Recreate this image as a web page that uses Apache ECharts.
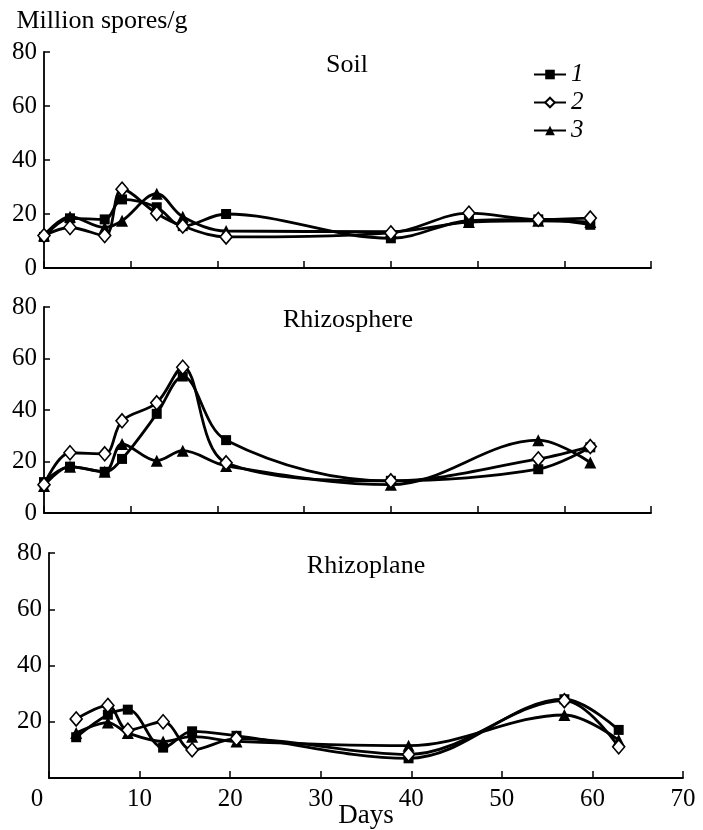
<!DOCTYPE html>
<html>
<head>
<meta charset="utf-8">
<script src="https://cdn.jsdelivr.net/npm/echarts@6/dist/echarts.min.js"></script>
<style>
  html, body { margin: 0; padding: 0; background: #fff; }
  #chart { width: 703px; height: 830px; }
</style>
</head>
<body>
<div id="chart"></div>
<script>
// days of sampling
const daysTop = [0, 3, 7, 9, 13, 16, 21, 40, 49, 57, 63];
const daysMid = [0, 3, 7, 9, 13, 16, 21, 40, 57, 63];
const daysBot = [3, 6.5, 8.7, 12.6, 15.8, 20.7, 39.7, 56.9, 62.9];

// Soil
const soil1 = [11.5, 18.4, 18, 25.4, 22.5, 15.5, 20, 11, 17.5, 18, 16];
const soil2 = [12, 15, 12, 29.2, 20.2, 15.5, 11.5, 13, 20.3, 18, 18.5];
const soil3 = [12, 19, 15, 17.5, 27.5, 19, 13.7, 13.5, 17, 17.5, 17];

// Rhizosphere
const rhizo1 = [12, 18, 16, 21, 38.5, 53, 28.3, 12.5, 17, 25.5];
const rhizo2 = [11, 23.4, 23, 35.8, 42.8, 56.6, 19.5, 12.5, 21, 25.8];
const rhizo3 = [10.5, 18, 16, 26.8, 20.3, 24.2, 18.3, 11, 28.3, 19.6];

// Rhizoplane
const plane1 = [14.5, 22.5, 24.3, 10.8, 16.6, 15, 7, 28, 17.1];
const plane2 = [21, 25.8, 17, 20, 10, 14, 8.4, 27.5, 11.1];
const plane3 = [16, 19.7, 16, 13, 14.7, 13, 11.5, 22.4, 13.5];

const seriesNames = ['1', '2', '3'];
const panelTitles = ['Soil', 'Rhizosphere', 'Rhizoplane'];
const yTicks = [0, 20, 40, 60, 80];
const xTicks = [0, 10, 20, 30, 40, 50, 60, 70];

const font = '"Liberation Serif", "DejaVu Serif", serif';

const chart = echarts.init(document.getElementById('chart'));

function pairs(xs, ys) {
    return xs.map(function (x, i) { return [x, ys[i]]; });
}

const markers = [
    { symbol: 'rect', symbolSize: 10, itemStyle: { color: '#000' } },
    { symbol: 'diamond', symbolSize: [12, 14], itemStyle: { color: '#fff', borderColor: '#000', borderWidth: 1.6 } },
    { symbol: 'triangle', symbolSize: 12, itemStyle: { color: '#000' } }
];

function makeSeries(idx, k, xs, ys) {
    return Object.assign({
        name: seriesNames[k],
        type: 'line',
        xAxisIndex: idx,
        yAxisIndex: idx,
        smooth: 0.35,
        showAllSymbol: true,
        lineStyle: { color: '#000', width: 2.8 },
        z: k === 1 ? 3 : 2,
        data: pairs(xs, ys)
    }, markers[k]);
}

const grids = [
    { left: 44, top: 52, width: 607, height: 216 },
    { left: 44, top: 307, width: 607, height: 206 },
    { left: 49, top: 553, width: 634, height: 225 }
];

function xAxisOf(idx) {
    return {
        type: 'value', gridIndex: idx, min: 0, max: 70, interval: 10,
        axisLine: { show: true, onZero: false, lineStyle: { color: '#000', width: 1.8 } },
        axisTick: { show: true, inside: true, length: 7, lineStyle: { color: '#000', width: 1.5 } },
        splitLine: { show: false },
        axisLabel: {
            show: idx === 2, color: '#000', fontFamily: font, fontSize: 25, margin: 9,
            formatter: function (v) { return v === xTicks[0] ? '{z|' + v + '}' : String(v); },
            rich: { z: { fontFamily: font, fontSize: 25, color: '#000', padding: [0, 24, 0, 0] } }
        }
    };
}

function yAxisOf(idx) {
    return {
        type: 'value', gridIndex: idx, min: yTicks[0], max: yTicks[yTicks.length - 1], interval: 20,
        axisLine: { show: true, lineStyle: { color: '#000', width: 1.8 } },
        axisTick: { show: true, inside: true, length: 6, lineStyle: { color: '#000', width: 1.5 } },
        splitLine: { show: false },
        axisLabel: {
            color: '#000', fontFamily: font, fontSize: 25, margin: 7,
            formatter: function (v) { return (idx === 2 && v === 0) ? '' : String(v); }
        }
    };
}

function label(text, x, y, size) {
    return {
        type: 'text', x: x, y: y, silent: true,
        style: { text: text, fill: '#000', font: size + 'px ' + font, textAlign: 'center', textVerticalAlign: 'middle' }
    };
}

const option = {
    backgroundColor: '#ffffff',
    animation: false,
    graphic: [
        label('Million spores/g', 102, 21, 26),
        label(panelTitles[0], 347, 65, 26),
        label(panelTitles[1], 348, 320, 26),
        label(panelTitles[2], 366, 566, 26),
        label('Days', 366, 816, 27)
    ],
    legend: {
        data: seriesNames,
        orient: 'vertical',
        left: 528,
        top: 57,
        itemWidth: 32,
        itemHeight: 12,
        itemGap: 3,
        textStyle: { fontFamily: font, fontSize: 25, fontStyle: 'italic', color: '#000' }
    },
    grid: grids,
    xAxis: [xAxisOf(0), xAxisOf(1), xAxisOf(2)],
    yAxis: [yAxisOf(0), yAxisOf(1), yAxisOf(2)],
    series: [
        makeSeries(0, 0, daysTop, soil1),
        makeSeries(0, 1, daysTop, soil2),
        makeSeries(0, 2, daysTop, soil3),
        makeSeries(1, 0, daysMid, rhizo1),
        makeSeries(1, 1, daysMid, rhizo2),
        makeSeries(1, 2, daysMid, rhizo3),
        makeSeries(2, 0, daysBot, plane1),
        makeSeries(2, 1, daysBot, plane2),
        makeSeries(2, 2, daysBot, plane3)
    ]
};

chart.setOption(option);
</script>
</body>
</html>
